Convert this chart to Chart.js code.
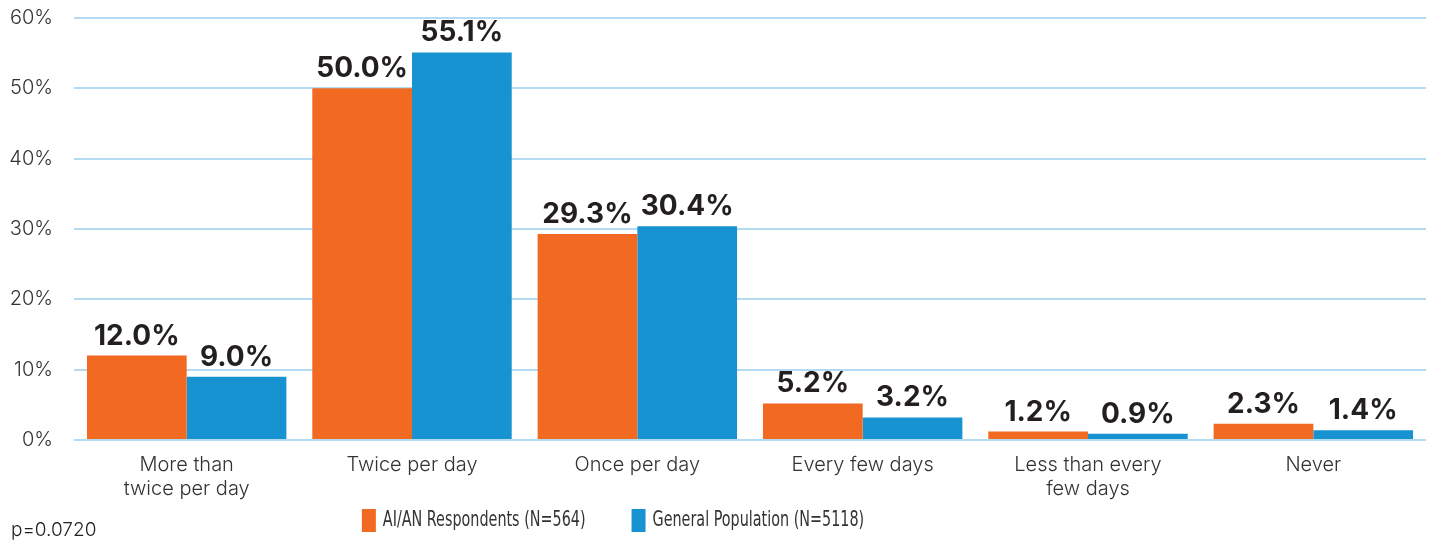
<!DOCTYPE html>
<html>
<head>
<meta charset="utf-8">
<script src="https://cdn.jsdelivr.net/npm/chart.js@4.4.0/dist/chart.umd.min.js"></script>
<style>
  body { margin: 0; background: #fff; }
  #wrap { position: relative; width: 1432px; height: 544px; }
  #pval { position: absolute; left: 11px; top: 518px; font: 300 19px Inter, sans-serif; color: #231f20; }
</style>
</head>
<body>
<div id="wrap">
  <canvas id="myChart" width="1432" height="544"></canvas>
  <div id="pval">p=0.0720</div>
</div>
<script>
const categories = [
  ['More than', 'twice per day'],
  'Twice per day',
  'Once per day',
  'Every few days',
  ['Less than every', 'few days'],
  'Never'
];
const aianValues = [12.0, 50.0, 29.3, 5.2, 1.2, 2.3];
const generalValues = [9.0, 55.1, 30.4, 3.2, 0.9, 1.4];
const seriesNames = ['AI/AN Respondents (N=564)', 'General Population (N=5118)'];
const yTicks = [0, 10, 20, 30, 40, 50, 60];

const orange = '#f26922';
const blue = '#1893d2';
const textColor = '#333333';

// bold value labels above each bar
const valueLabels = {
  id: 'valueLabels',
  afterDatasetsDraw(chart) {
    const ctx = chart.ctx;
    ctx.save();
    ctx.font = 'bold 28px Inter, sans-serif';
    ctx.fillStyle = '#231f20';
    ctx.textAlign = 'center';
    ctx.textBaseline = 'alphabetic';
    chart.data.datasets.forEach((ds, i) => {
      chart.getDatasetMeta(i).data.forEach((bar, j) => {
        ctx.fillText(ds.data[j].toFixed(1) + '%', bar.x, bar.y - 11);
      });
    });
    ctx.restore();
  }
};

// legend drawn under the axis labels, a bit left of centre like the original;
// the original uses a condensed face, so squeeze the text a little
const bottomLegend = {
  id: 'bottomLegend',
  afterDraw(chart) {
    const ctx = chart.ctx;
    const squeeze = 0.76;
    ctx.save();
    ctx.font = '21px "DejaVu Sans Condensed", sans-serif';
    ctx.textBaseline = 'middle';
    const gap = 46;
    const items = chart.data.datasets.map(ds => ({ ds, w: 21 + ctx.measureText(ds.label).width * squeeze }));
    const total = items.reduce((s, it) => s + it.w, 0) + gap * (items.length - 1);
    let x = 613 - total / 2;
    const y = 520;
    items.forEach(({ ds, w }) => {
      ctx.fillStyle = ds.backgroundColor;
      ctx.fillRect(x, y - 11, 14, 23);
      ctx.fillStyle = textColor;
      ctx.save();
      ctx.translate(x + 21, y + 1);
      ctx.scale(squeeze, 1);
      ctx.fillText(ds.label, 0, 0);
      ctx.restore();
      x += w + gap;
    });
    ctx.restore();
  }
};

const ctx = document.getElementById('myChart');
const chart = new Chart(ctx, {
  type: 'bar',
  data: {
    labels: categories,
    datasets: [
      { label: seriesNames[0], data: aianValues, backgroundColor: orange },
      { label: seriesNames[1], data: generalValues, backgroundColor: blue }
    ]
  },
  options: {
    responsive: false,
    animation: false,
    layout: { padding: { top: 18, right: 6, bottom: 44, left: 0 } },
    datasets: { bar: { categoryPercentage: 0.885, barPercentage: 1.0 } },
    plugins: {
      legend: { display: false },
      tooltip: { enabled: false }
    },
    scales: {
      x: {
        grid: { display: false },
        border: { display: false },
        ticks: {
          color: textColor,
          font: { family: 'Inter, sans-serif', size: 20, weight: 300 },
          padding: 5,
          maxRotation: 0
        },
        afterFit(scale) { scale.height = 60; }
      },
      y: {
        min: 0,
        max: 60,
        afterBuildTicks(scale) { scale.ticks = yTicks.map(v => ({ value: v })); },
        grid: { color: '#b3dbf2', lineWidth: 2, drawTicks: false },
        border: { display: false },
        ticks: {
          color: textColor,
          font: { family: 'Inter, sans-serif', size: 20, weight: 300 },
          padding: 21,
          callback: v => v + '%'
        },
        afterFit(scale) {
          scale.width = 74;
          scale.paddingTop = 0;
          scale.paddingBottom = 0;
        }
      }
    }
  },
  plugins: [valueLabels, bottomLegend]
});
</script>
</body>
</html>
